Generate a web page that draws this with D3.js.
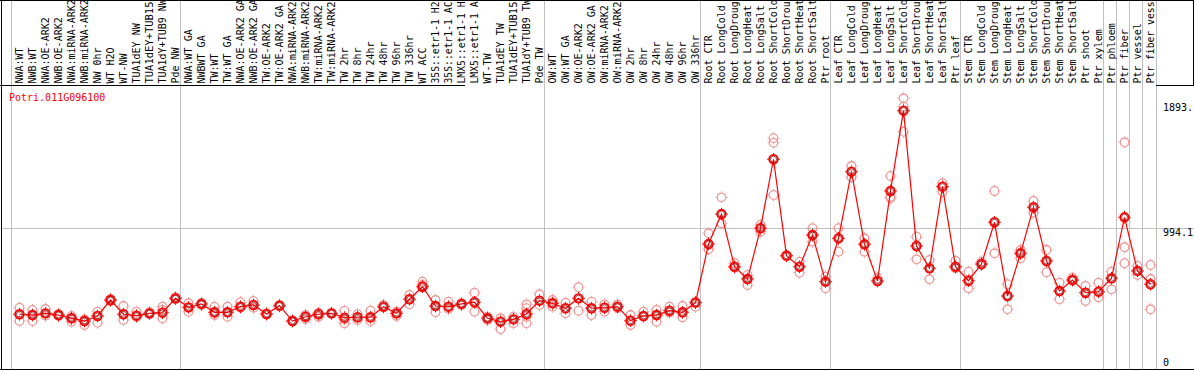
<!DOCTYPE html>
<html>
<head>
<meta charset="utf-8">
<script src="https://cdn.jsdelivr.net/npm/d3@7/dist/d3.min.js"></script>
<style>
  body { margin: 0; background: #fff; }
  svg { display: block; }
  text { font-family: "DejaVu Sans Mono", monospace; font-size: 10px; }
</style>
</head>
<body>
<div id="wrapper"></div>
<script>
const geneName = "Potri.011G096100"

// sample names as printed in the header (cut to 14 characters like the original)
const samples = [
  "NWA:WT", "NWB:WT", "NWA:OE-ARK2", "NWB:OE-ARK2", "NWA:miRNA-ARK2", "NWB:miRNA-ARK2",
  "NW 0hr", "WT H2O", "WT-NW", "TUA1dEY NW", "TUA1dEY+TUB15 NW", "TUA1dY+TUB9 NW", "Pde NW",
  "NWA:WT GA", "NWBWT GA", "TW:WT", "TW:WT GA", "NWA:OE-ARK2 GA", "NWB:OE-ARK2 GA",
  "TW:OE-ARK2", "TW:OE-ARK2 GA", "NWA:miRNA-ARK2 GA", "NWB:miRNA-ARK2 GA", "TW:miRNA-ARK2",
  "TW:miRNA-ARK2 GA", "TW 2hr", "TW 8hr", "TW 24hr", "TW 48hr", "TW 96hr", "TW 336hr", "WT ACC",
  "35S::etr1-1 H2O", "35S::etr1-1 ACC", "LMX5::etr1-1 H2O", "LMX5::etr1-1 ACC", "WT-TW",
  "TUA1dEY TW", "TUA1dEY+TUB15 TW", "TUA1dY+TUB9 TW", "Pde TW",
  "OW:WT", "OW:WT GA", "OW:OE-ARK2", "OW:OE-ARK2 GA", "OW:miRNA-ARK2", "OW:miRNA-ARK2 GA",
  "OW 2hr", "OW 8hr", "OW 24hr", "OW 48hr", "OW 96hr", "OW 336hr",
  "Root CTR", "Root LongCold", "Root LongDrought", "Root LongHeat", "Root LongSalt",
  "Root ShortCold", "Root ShortDrought", "Root ShortHeat", "Root ShortSalt", "Ptr root",
  "Leaf CTR", "Leaf LongCold", "Leaf LongDrought", "Leaf LongHeat", "Leaf LongSalt",
  "Leaf ShortCold", "Leaf ShortDrought", "Leaf ShortHeat", "Leaf ShortSalt", "Ptr leaf",
  "Stem CTR", "Stem LongCold", "Stem LongDrought", "Stem LongHeat", "Stem LongSalt",
  "Stem ShortCold", "Stem ShortDrought", "Stem ShortHeat", "Stem ShortSalt", "Ptr shoot", "Ptr xylem",
  "Ptr phloem", "Ptr fiber", "Ptr vessel", "Ptr fiber vessel"
]

// first sample index of every group (grey separators)
const groupStarts = [0, 13, 41, 53, 63, 73, 84, 85, 86, 87]

const means = [
  333, 327, 340, 327, 302, 281, 320, 442, 333, 322, 340, 345, 455,
  386, 412, 348, 348, 391, 404, 335, 399, 281, 314, 333, 340, 307, 310, 310, 391, 340,
  448, 544, 396, 391, 412, 425, 302, 276, 294, 335, 437,
  417, 379, 455, 379, 383, 391, 284, 320, 327, 360, 348, 422,
  871, 1101, 697, 603, 992, 1521, 782, 697, 940, 583,
  915, 1426, 869, 588, 1278, 1893.3, 856, 685, 1311, 697,
  590, 718, 1038, 473, 800, 1153, 741, 511, 596, 498, 506,
  609, 1076, 665, 563
]

const replicates = [
  [383, 333, 281], [366, 327, 281], [373, 340, 322], [335, 327, 320], [320, 302, 276],
  [294, 281, 251], [353, 320, 268], [450, 442, 435], [396, 333, 289], [353, 322, 312],
  [348, 340, 333], [391, 366, 302], [463, 455, 448],
  [417, 386, 353], [419, 412, 404], [391, 348, 327], [391, 348, 314], [425, 391, 383],
  [435, 404, 383], [339, 335, 331], [404, 399, 393], [285, 281, 277], [327, 314, 294],
  [345, 333, 314], [344, 340, 336], [360, 294, 264], [333, 310, 289], [360, 310, 281],
  [404, 391, 385], [353, 340, 320], [481, 448, 409], [583, 557, 544], [442, 396, 348],
  [429, 391, 373], [417, 412, 404], [498, 425, 353], [314, 302, 289], [302, 276, 220],
  [314, 294, 264], [409, 379, 314, 264], [486, 437, 404],
  [442, 417, 391], [422, 379, 340], [540, 455, 360], [429, 379, 327], [409, 383, 353],
  [409, 391, 379], [327, 284, 251], [353, 320, 314], [366, 327, 276], [391, 360, 345],
  [396, 348, 310], [429, 422, 391],
  [953, 871, 831], [1229, 1101, 1030], [724, 697, 691], [634, 603, 557], [1017, 992, 966],
  [1682, 1648, 1521, 1247], [787, 782, 776], [736, 697, 651], [992, 940, 889], [621, 583, 532],
  [992, 915, 812], [1469, 1426, 1383], [915, 869, 812], [609, 588, 584], [1393, 1278, 1234, 1222],
  [1988.2, 1924, 1893, 1732], [927, 856, 754], [749, 685, 601], [1337, 1311, 1272], [743, 697, 685],
  [659, 590, 532], [736, 718, 711], [1278, 1038, 800], [563, 473, 371], [825, 800, 762],
  [1201, 1153, 1111], [825, 741, 655], [575, 511, 448], [613, 596, 588], [550, 498, 435],
  [575, 506, 463],
  [659, 609, 524], [1651, 846, 724], [703, 665, 634], [711, 603, 371]
]

const yTickValues = [0, 994.1]
const yMaxLabel = 1893.3

const width = 1194
const height = 370
const headerBottom = 85

const wrapper = d3.select("#wrapper")
  .append("svg")
  .attr("width", width)
  .attr("height", height)

const xScale = d3.scalePoint()
  .domain(d3.range(samples.length))
  .range([19.5, 19.5 + 13 * (samples.length - 1)])

const yScale = d3.scaleLinear()
  .domain([0, 1988.2])
  .range([357.7, 98.3])

// grey group separators
const seps = groupStarts.map(i => xScale(i) - 8)
seps.push(xScale(samples.length - 1) + 6)
wrapper.append("g")
  .selectAll("line")
  .data(seps)
  .join("line")
  .attr("x1", d => d).attr("x2", d => d)
  .attr("y1", 0).attr("y2", height)
  .attr("stroke", "#c0c0c0")
  .attr("stroke-width", 1)

// mid gridline
wrapper.append("line")
  .attr("x1", 1).attr("x2", width)
  .attr("y1", Math.round(yScale(994.1)) + 0.5)
  .attr("y2", Math.round(yScale(994.1)) + 0.5)
  .attr("stroke", "#c0c0c0")

// frame
const frame = wrapper.append("g").attr("stroke", "#000").attr("stroke-width", 1)
frame.append("line").attr("x1", 1.5).attr("x2", 1.5).attr("y1", 0).attr("y2", height)
frame.append("line").attr("x1", 0).attr("x2", width).attr("y1", 0.5).attr("y2", 0.5)
frame.append("line").attr("x1", 0).attr("x2", width).attr("y1", 369.5).attr("y2", 369.5)
frame.append("line").attr("x1", 0).attr("x2", 465).attr("y1", headerBottom + 0.5).attr("y2", headerBottom + 0.5)
frame.append("line").attr("x1", 1156).attr("x2", width).attr("y1", headerBottom + 0.5).attr("y2", headerBottom + 0.5)
frame.append("line").attr("x1", 1193.5).attr("x2", 1193.5).attr("y1", 0).attr("y2", headerBottom)

// sample labels (vertical), the header only has room for 14 characters
wrapper.append("g")
  .selectAll("text")
  .data(samples)
  .join("text")
  .attr("transform", (d, i) => `translate(${xScale(i) + 3.5},83.5) rotate(-90)`)
  .attr("fill", "#000")
  .attr("textLength", d => d.length > 14 ? 82 : null)
  .attr("lengthAdjust", "spacingAndGlyphs")
  .text(d => d.length > 14 ? d.slice(0, 14) : d)

// gene name
wrapper.append("text")
  .attr("x", 9)
  .attr("y", 101)
  .attr("fill", "red")
  .text(geneName)

// replicate points
const repData = replicates.flatMap((arr, i) => arr.map(v => ({i, v})))
const reps = wrapper.append("g")
  .attr("stroke", "#f09898")
  .attr("fill", "none")
  .attr("stroke-width", 1.3)
const repG = reps.selectAll("g")
  .data(repData)
  .join("g")
  .attr("transform", d => `translate(${xScale(d.i)},${yScale(d.v)})`)
repG.append("circle").attr("r", 4.3)
repG.append("path").attr("d", "M0,-6V-5M0,5V6M-6,0H-5M5,0H6").attr("stroke-width", 1)

// mean line
const lineGenerator = d3.line()
  .x((d, i) => xScale(i))
  .y(d => yScale(d))

wrapper.append("path")
  .attr("d", lineGenerator(means))
  .attr("fill", "none")
  .attr("stroke", "red")
  .attr("stroke-width", 1.2)

// mean points
const meanG = wrapper.append("g")
  .selectAll("g")
  .data(means)
  .join("g")
  .attr("transform", (d, i) => `translate(${xScale(i)},${yScale(d)})`)
meanG.append("circle").attr("r", 4.3).attr("fill", "none").attr("stroke", "red").attr("stroke-width", 1.8)
meanG.append("circle").attr("r", 3).attr("fill", "none").attr("stroke", "#600").attr("stroke-width", 0.7)
meanG.append("path").attr("d", "M0,-6.3V-5M0,5V6.3M-6.3,0H-5M5,0H6.3")
  .attr("stroke", "red").attr("stroke-width", 1)

// value labels on the right (the top one is cut to the space left, as in the original)
const yLabels = wrapper.append("g").attr("fill", "#000")
yLabels.selectAll("text")
  .data(yTickValues)
  .join("text")
  .attr("x", 1163)
  .attr("y", d => yScale(d) + 8)
  .text(d => d)
yLabels.append("text")
  .attr("x", 1163)
  .attr("y", yScale(yMaxLabel))
  .text(String(yMaxLabel).slice(0, 5))
</script>
</body>
</html>
